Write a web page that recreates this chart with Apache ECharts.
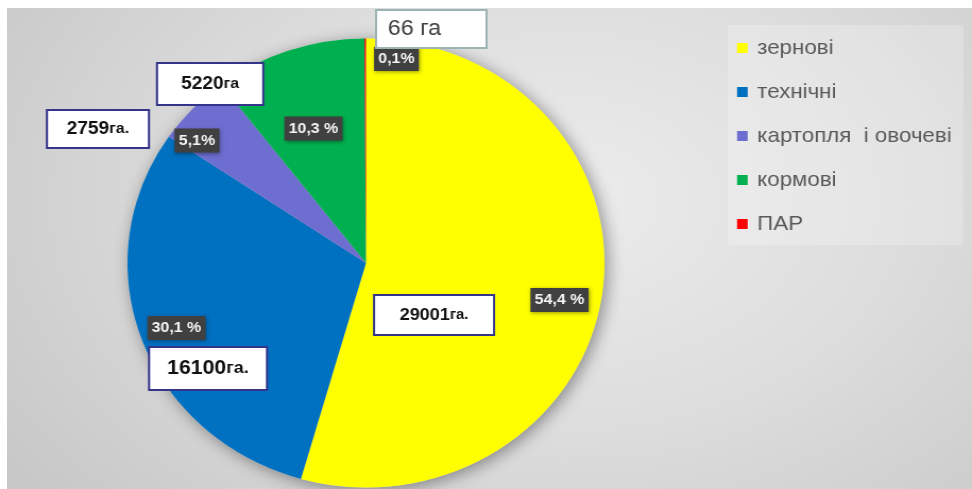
<!DOCTYPE html>
<html>
<head>
<meta charset="utf-8">
<script src="https://cdn.jsdelivr.net/npm/echarts@6/dist/echarts.min.js"></script>
<style>
  html, body { margin: 0; padding: 0; background: #ffffff; width: 972px; height: 489px; overflow: hidden; }
  #bg { position: absolute; left: 7px; top: 8px; width: 965px; height: 481px;
        background: radial-gradient(ellipse 70% 95% at 58% 40%, #ececec 0%, #dddddd 50%, #c8c8c8 100%); }
  #chart { position: absolute; left: 0; top: 0; width: 915px; height: 489px;
           transform: scaleX(1.0623); transform-origin: 0 0; }
</style>
</head>
<body>
<div id="bg"></div>
<div id="chart"></div>
<script>
// ---- data ----
const categories = ['зернові', 'технічні', 'картопля  і овочеві', 'кормові', 'ПАР'];
const shares = [54.4, 30.1, 5.1, 10.3, 0.1];              // % of area
const shareLabels = ['54,4 %', '30,1 %', '5,1%', '10,3 %', '0,1%'];
const areaValues = ['29001', '16100', '2759', '5220', '66'];
const areaUnits = ['га.', 'га.', 'га.', 'га', ' га'];
const colors = ['#FFFF00', '#0070C0', '#6E6ED0', '#00B050', '#FF0000'];

// ---- layout (chart-space px) ----
const pieCenter = [344.5, 263];
const pieRadius = 224.5;
const pctPos = [[526.7, 300], [166.1, 328], [185.4, 140.5], [295.1, 128.5], [373.2, 59]];
// area boxes: x, y, w, h, fontSize, style
const areaBoxes = [
  {x: 352.1, y: 295, w: 113, h: 40, fs: 17, kind: 'dark'},
  {x: 140.3, y: 347, w: 111, h: 43, fs: 20, kind: 'dark'},
  {x: 44.2,  y: 110, w: 96,  h: 38, fs: 18, kind: 'dark'},
  {x: 147.8, y: 63,  w: 100, h: 42, fs: 18, kind: 'dark'},
  {x: 354.0, y: 10,  w: 104, h: 38, fs: 22, kind: 'light'}
];

const font = '"Liberation Sans", Arial, sans-serif';

const pieData = categories.map((c, i) => {
  const d = { name: c, value: shares[i], itemStyle: { color: colors[i] } };
  if (i === 4) {
    d.label = { position: 'outside' };
    d.labelLine = { show: true, length: 4, length2: 4, lineStyle: { color: '#7f7f7f', width: 1 } };
  }
  return d;
});

const graphics = [];
areaBoxes.forEach((b, i) => {
  const dark = b.kind === 'dark';
  graphics.push({
    type: 'rect', z: 100,
    shape: { x: b.x, y: b.y, width: b.w, height: b.h },
    style: { fill: '#ffffff', stroke: dark ? '#34348a' : '#9db2b2', lineWidth: 2 }
  });
  graphics.push({
    type: 'text', z: 101,
    x: dark ? b.x + b.w / 2 : b.x + 11, y: b.y + b.h / 2,
    style: {
      text: '{n|' + areaValues[i] + '}{u|' + areaUnits[i] + '}',
      align: dark ? 'center' : 'left', verticalAlign: 'middle',
      rich: {
        n: { fontFamily: font, fontSize: b.fs, fontWeight: dark ? 'bold' : 'normal', fill: dark ? '#111111' : '#404040' },
        u: { fontFamily: font, fontSize: dark ? Math.round(b.fs * 0.85) : b.fs, fontWeight: dark ? 'bold' : 'normal', fill: dark ? '#111111' : '#404040' }
      }
    }
  });
});

const chart = echarts.init(document.getElementById('chart'), null, { renderer: 'canvas' });
chart.setOption({
  animation: false,
  backgroundColor: 'transparent',
  legend: {
    orient: 'vertical',
    left: 685.3, top: 25,
    padding: [12, 11, 10, 8.5],
    backgroundColor: 'rgba(255,255,255,0.22)',
    data: categories,
    icon: 'rect',
    itemWidth: 10, itemHeight: 10,
    itemGap: 22,
    selectedMode: false,
    textStyle: { fontFamily: font, fontSize: 21, color: '#595959', lineHeight: 22, padding: [0, 0, 0, 4] }
  },
  graphic: graphics,
  series: [
    {
      type: 'pie', name: 'shadow', silent: true, z: 1,
      center: pieCenter, radius: pieRadius,
      label: { show: false }, labelLine: { show: false },
      itemStyle: { color: '#cfcfcf', shadowBlur: 16, shadowOffsetX: 3, shadowOffsetY: 3, shadowColor: 'rgba(0,0,0,0.4)' },
      data: [{ name: '', value: 1 }]
    },
    {
      type: 'pie', z: 2,
      center: pieCenter, radius: pieRadius,
      startAngle: 90, clockwise: true,
      avoidLabelOverlap: false,
      itemStyle: { borderWidth: 0 },
      label: {
        show: true, position: 'inside',
        formatter: p => shareLabels[p.dataIndex],
        fontFamily: font, fontSize: 15, fontWeight: 'bold', color: '#f4f4f4',
        backgroundColor: '#404040', padding: [4, 4], lineHeight: 16,
        shadowBlur: 4, shadowColor: 'rgba(0,0,0,0.4)', shadowOffsetX: 1, shadowOffsetY: 1
      },
      labelLine: { show: false },
      labelLayout: p => ({ x: pctPos[p.dataIndex][0], y: pctPos[p.dataIndex][1], align: 'center', verticalAlign: 'middle' }),
      emphasis: { disabled: true },
      data: pieData
    }
  ]
});
</script>
</body>
</html>
